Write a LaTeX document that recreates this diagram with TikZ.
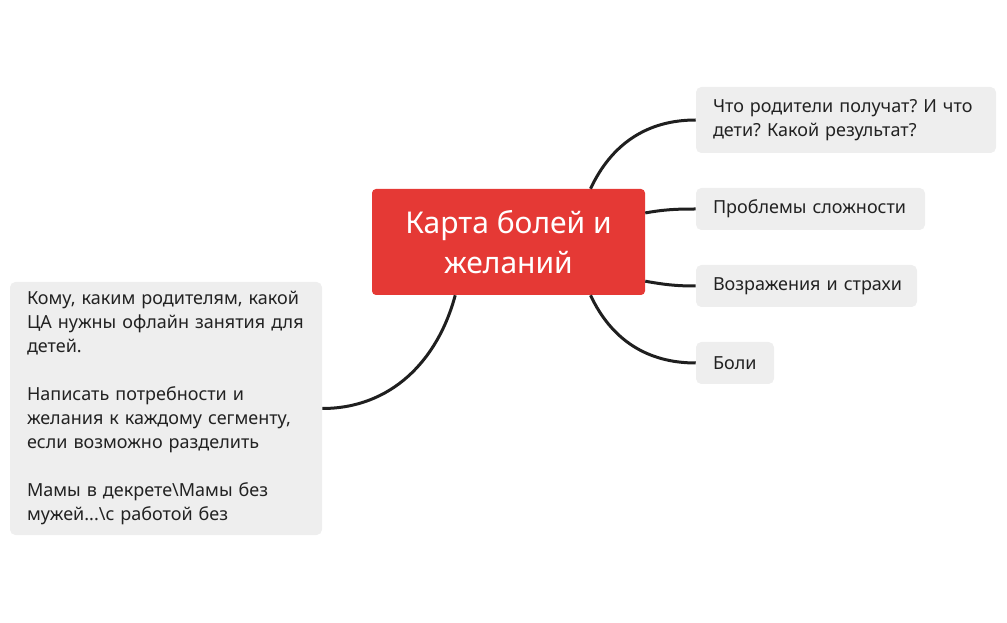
\documentclass[tikz,border=0pt]{standalone}
\usepackage{fontspec}
\setmainfont{Noto Sans}
\frenchspacing
\definecolor{topicred}{HTML}{E53935}
\definecolor{boxgrey}{HTML}{EEEEEE}
\definecolor{inkgrey}{HTML}{222222}
\tikzset{
  topic/.style={rectangle, rounded corners=3pt, fill=topicred, text=white, align=center,
    font=\fontsize{22.5}{30}\selectfont, minimum width=204.75pt, minimum height=79.5pt},
  sub/.style={rectangle, rounded corners=4pt, fill=boxgrey, text=inkgrey, align=left,
    inner xsep=12.75pt, inner ysep=0pt, font=\fontsize{13.5}{18}\selectfont},
  branch/.style={line width=2.25pt, draw=inkgrey!90!black}
}
\begin{document}
\begin{tikzpicture}[x=0.75pt, y=-0.75pt]
        \useasboundingbox (0,0) rectangle (1007,623);
        % Nodes
        \node (map) [topic] at (508.5,242) {Карта болей и\hspace{5pt}\\желаний\hspace{5pt}};
        \node (result) [sub, text width=199.5pt, minimum height=49.5pt] at (846,120) {Что родители получат? И что\\дети? Какой результат?};
        \node (problems) [sub, text width=146.25pt, minimum height=31.5pt] at (810.5,209) {\mbox{Проблемы сложности}};
        \node (fears) [sub, text width=140.25pt, minimum height=31.5pt] at (806.5,286) {\mbox{Возражения и страхи}};
        \node (pains) [sub, text width=33pt, minimum height=31.5pt] at (735,363) {\mbox{Боли}};
        \node (audience) [sub, text width=208.5pt, minimum height=189.75pt] at (166,408.5) {Кому, каким родителям, какой\\ЦА нужны офлайн занятия для\\детей.\\[18pt]Написать потребности и\\желания к каждому сегменту,\\если возможно разделить\\[18pt]Мамы в декрете\textbackslash Мамы без\\мужей...\textbackslash с работой без};

        % Edges
        \draw [branch] (map.33) to[out=65, in=180] (result.west);
        \draw [branch] (map.12) to[out=10, in=180] (problems.west);
        \draw [branch] (map.-16) to[out=-10, in=180] (fears.west);
        \draw [branch] (map.-33) to[out=-65, in=180] (pains.west);
        \draw [branch] (map.225) to[out=-105, in=0] (audience.east);

    \end{tikzpicture}
\end{document}
